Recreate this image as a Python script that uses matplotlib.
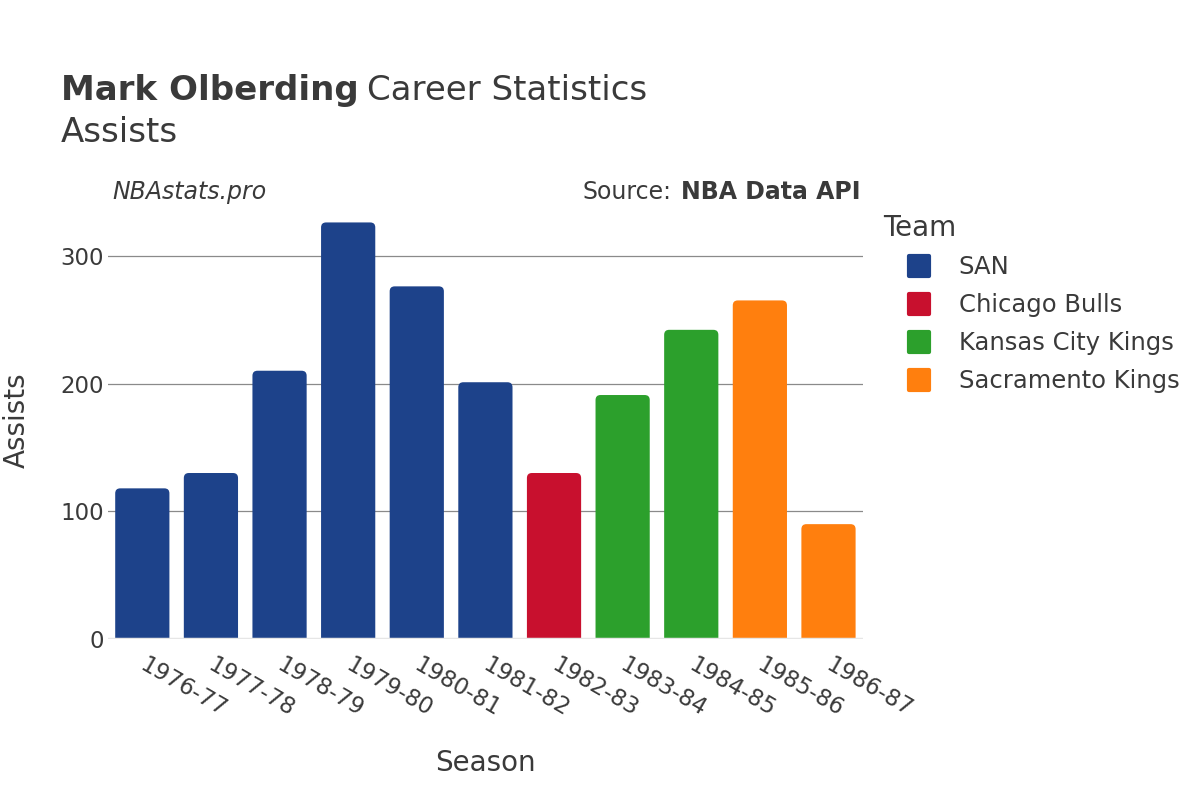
import matplotlib
matplotlib.use("Agg")
import matplotlib.pyplot as plt
from matplotlib.patches import FancyBboxPatch
from matplotlib.lines import Line2D
from matplotlib.markers import MarkerStyle
from matplotlib.transforms import ScaledTranslation

seasons = ["1976-77", "1977-78", "1978-79", "1979-80", "1980-81", "1981-82",
           "1982-83", "1983-84", "1984-85", "1985-86", "1986-87"]
assists = [118, 130, 210, 326, 276, 201, 130, 191, 242, 265, 90]
teams = ["SAN", "SAN", "SAN", "SAN", "SAN", "SAN", "Chicago Bulls",
         "Kansas City Kings", "Kansas City Kings", "Sacramento Kings", "Sacramento Kings"]
team_order = ["SAN", "Chicago Bulls", "Kansas City Kings", "Sacramento Kings"]
team_colors = {"SAN": "#1d428a", "Chicago Bulls": "#c8102e",
               "Kansas City Kings": "#2ca02c", "Sacramento Kings": "#ff7f0e"}
yticks = [0, 100, 200, 300]

plt.rcParams['font.family'] = ['DejaVu Sans']
TXT = "#3a3a3a"

fig = plt.figure(figsize=(12, 8), dpi=100)
ax = fig.add_axes([0.09, 0.201, 0.629, 0.547])

x = list(range(len(seasons)))
bars = ax.bar(x, assists, width=0.79, color=[team_colors[t] for t in teams], zorder=2)
ax.set_xlim(-0.5, len(seasons) - 0.5)
ax.set_ylim(0, max(assists) * 1.05)
fig.canvas.draw()

# rounded tops
bbox = ax.get_window_extent()
xr = (ax.get_xlim()[1] - ax.get_xlim()[0]) / bbox.width
yr = (ax.get_ylim()[1] - ax.get_ylim()[0]) / bbox.height
rad_px = 5
for b in bars:
    b.set_visible(False)
    bx, bw, bh = b.get_x(), b.get_width(), b.get_height()
    ext = rad_px * 2 * yr
    p = FancyBboxPatch((bx, -ext), bw, bh + ext,
                       boxstyle=f"round,pad=0,rounding_size={rad_px * xr}",
                       mutation_aspect=yr / xr,
                       facecolor=b.get_facecolor(), edgecolor="none", zorder=2)
    ax.add_patch(p)

ax.set_yticks(yticks)
ax.grid(axis='y', color="#8a8a8a", linewidth=0.9, zorder=0)
ax.axhline(0, color="#e6e6e6", linewidth=2.5, zorder=3)
for s in ax.spines.values():
    s.set_visible(False)
ax.tick_params(axis='both', length=0, labelsize=16.5, labelcolor=TXT)
ax.tick_params(axis='y', pad=3)
ax.set_xticks(x)
ax.set_xticklabels(seasons, rotation=-30, ha='left', va='top', rotation_mode='anchor')
ax.tick_params(axis='x', pad=10)
for lab in ax.get_xticklabels():
    lab.set_transform(lab.get_transform() + ScaledTranslation(5 / 100, 0, fig.dpi_scale_trans))

ax.set_xlabel("Season", fontsize=20, color=TXT, labelpad=20)
ax.set_ylabel("Assists", fontsize=20, color=TXT, labelpad=21)

renderer = fig.canvas.get_renderer()
t1 = fig.text(0.0505, 0.8865, "Mark Olberding", fontsize=24.5, fontweight='bold', color=TXT, va='center')
w1 = t1.get_window_extent(renderer).width
fig.text(0.0505 + (w1 + 9) / 1200, 0.8865, "Career Statistics", fontsize=24.5, color=TXT, va='center')
fig.text(0.0505, 0.835, "Assists", fontsize=24.5, color=TXT, va='center')

fig.text(0.094, 0.76, "NBAstats.pro", fontsize=17, style='italic', color=TXT, va='center')
t2 = fig.text(0.717, 0.76, "NBA Data API", fontsize=17, fontweight='bold', color=TXT, va='center', ha='right')
w2 = t2.get_window_extent(renderer).width
fig.text(0.717 - (w2 + 9) / 1200, 0.76, "Source:", fontsize=17, color=TXT, va='center', ha='right')

handles = [Line2D([0], [0], linestyle='none',
                  marker=MarkerStyle('s', joinstyle='round'), markersize=14,
                  markerfacecolor=team_colors[t], markeredgecolor=team_colors[t],
                  markeredgewidth=3) for t in team_order]
leg = fig.legend(handles, team_order, loc='upper left', bbox_to_anchor=(0.7358, 0.733),
                 frameon=False, title="Team", fontsize=17.5, title_fontsize=20,
                 labelspacing=0.57, handletextpad=0.16, borderpad=0, borderaxespad=0,
                 handlelength=2.96)
leg._legend_box.align = "left"
for t in leg.get_texts():
    t.set_color(TXT)
leg.get_title().set_color(TXT)

fig.savefig("out.png", dpi=100, facecolor='white')
